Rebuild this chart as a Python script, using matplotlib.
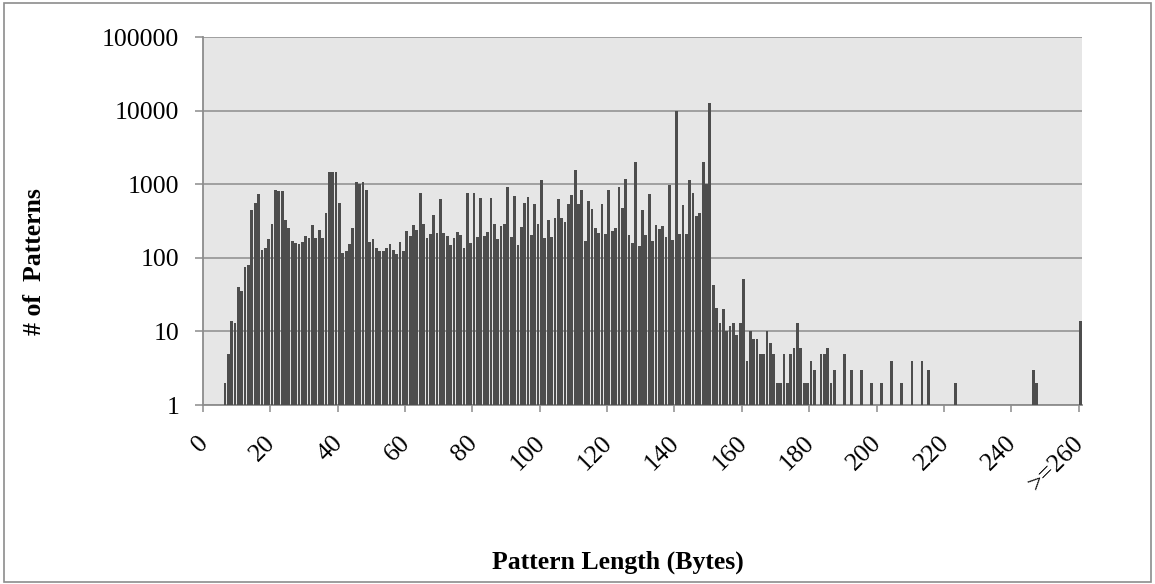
#パターン長ごとのパターン数（対数軸の棒グラフ）
import numpy as np
import matplotlib
matplotlib.use("Agg")
import matplotlib.pyplot as plt
from matplotlib.patches import Rectangle

plt.rcParams['font.family'] = ['Liberation Serif', 'DejaVu Serif']

# 長さ6〜187は連続して値を持つ（0は棒なし）
dense_start = 6
dense_counts = [
    2, 5, 14, 13, 40, 35, 74, 79, 450, 560, 745, 127, 135, 180,            # 6-19
    290, 845, 800, 800, 323, 254, 169, 160, 152, 162,                       # 20-29
    195, 186, 279, 186, 240, 186, 400, 1470, 1470, 1450,                    # 30-39
    563, 117, 125, 152, 254, 1087, 1000, 1080, 827, 162,                    # 40-49
    180, 138, 122, 122, 138, 152, 127, 113, 165, 122,                       # 50-59
    234, 196, 275, 235, 770, 285, 183, 210, 385, 217,                       # 60-69
    630, 218, 195, 150, 183, 226, 205, 135, 770, 158,                       # 70-79
    755, 190, 658, 200, 226, 648, 291, 180, 267, 285,                       # 80-89
    910, 189, 700, 150, 262, 563, 671, 205, 540, 285,                       # 90-99
    1124, 183, 330, 190, 344, 630, 344, 303, 533, 715,                      # 100-109
    1567, 540, 827, 169, 587, 466, 254, 217, 540, 210,                      # 110-119
    827, 228, 255, 930, 470, 1183, 205, 157, 1995, 143,                     # 120-129
    447, 203, 746, 171, 279, 249, 267, 193, 968, 175,                       # 130-139
    9890, 208, 522, 212, 1150, 770, 366, 400, 1974, 1020,                   # 140-149
    12600, 43, 21, 13, 20, 10, 12, 13, 9, 13,                               # 150-159
    51, 4, 10, 8, 8, 5, 5, 10, 7, 5,                                        # 160-169
    2, 2, 5, 2, 5, 6, 13, 6, 2, 2,                                          # 170-179
    4, 3, 0, 5, 5, 6, 2, 3,                                                 # 180-187
]

# それ以降はまばら
sparse_lengths = [190, 192, 195, 198, 201, 204, 207, 210, 213, 215, 223, 246, 247, 260]
sparse_counts = [5, 3, 3, 2, 2, 4, 2, 4, 4, 3, 2, 3, 2, 14]

tick_values = [0, 20, 40, 60, 80, 100, 120, 140, 160, 180, 200, 220, 240, 260]
tick_labels = ['0', '20', '40', '60', '80', '100', '120', '140', '160', '180',
               '200', '220', '240', '>=260']

lengths = np.array(list(range(dense_start, dense_start + len(dense_counts))) + sparse_lengths)
counts = np.array(dense_counts + sparse_counts)
mask = counts > 0

fig = plt.figure(figsize=(11.55, 5.84), dpi=100)
ax = fig.add_axes([203/1155, 1-405/584, (1082-203)/1155, (405-37)/584])
ax.set_facecolor('#e6e6e6')
ax.set_yscale('log')

ax.bar(lengths[mask], counts[mask], width=0.82, color='#4d4d4d', zorder=3)

ax.set_ylim(1, 100000)
ax.set_xlim(-0.5, 260.5)
ax.set_yticks([1, 10, 100, 1000, 10000, 100000])
ax.set_yticklabels(['1', '10', '100', '1000', '10000', '100000'])
ax.yaxis.set_minor_locator(matplotlib.ticker.NullLocator())
ax.grid(axis='y', color='#8c8c8c', linewidth=1.1, zorder=0)

# 目盛り線はカテゴリの境目、ラベルはカテゴリ中央
ax.set_xticks(np.array(tick_values) - 0.5)
ax.set_xticklabels([])
ax.set_xticks(tick_values, minor=True)
ax.set_xticklabels(tick_labels, minor=True, rotation=45, ha='right',
                   rotation_mode='anchor', va='center', fontsize=18.5)
ax.tick_params(axis='x', which='major', length=5, color='#8c8c8c', width=1.1)
ax.tick_params(axis='x', which='minor', length=0, pad=25)
ax.tick_params(axis='y', which='major', length=6, color='#8c8c8c', width=1.1,
               labelsize=18.5, pad=11)

for s in ['top', 'right']:
    ax.spines[s].set_visible(False)
for s in ['left', 'bottom']:
    ax.spines[s].set_color('#8c8c8c')
    ax.spines[s].set_linewidth(1.3)

fig.text(35/1155, 1-262/584, '# of  Patterns', rotation=90, ha='center', va='center',
         fontsize=18.5, fontweight='bold')
fig.text(618/1155, 1-562/584, 'Pattern Length (Bytes)', ha='center', va='center',
         fontsize=18.5, fontweight='bold')

fig.patches.append(Rectangle((4/1155, 2/584), 1147/1155, 579/584, transform=fig.transFigure,
                             fill=False, edgecolor='#8c8c8c', linewidth=1.2))

fig.savefig('out.png', dpi=100)
